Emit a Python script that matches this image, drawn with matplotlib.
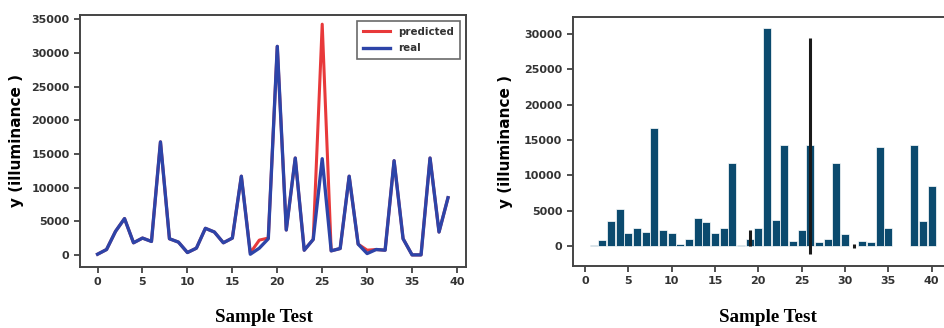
import matplotlib
matplotlib.use("Agg")
import matplotlib.pyplot as plt
import numpy as np

samples = list(range(40))
real = [100, 800, 3500, 5400, 1800, 2500, 2000, 16800, 2400, 1900,
        350, 1000, 3950, 3400, 1800, 2500, 11700, 100, 1000, 2400,
        31000, 3700, 14400, 700, 2300, 14300, 600, 950, 11700, 1600,
        200, 800, 700, 14000, 2400, 0, 0, 14400, 3400, 8500]
predicted = [100, 800, 3500, 5400, 1800, 2500, 2000, 16800, 2400, 1900,
             350, 1000, 3950, 3400, 1800, 2500, 11700, 300, 2200, 2500,
             31000, 3700, 14400, 700, 2300, 34300, 600, 950, 11700, 1600,
             700, 800, 700, 14000, 2400, 0, 0, 14400, 3400, 8500]

bar_x = list(range(1, 41))
bar_vals = [200, 800, 3600, 5300, 1800, 2500, 2000, 16700, 2300, 1900,
            300, 1000, 3900, 3400, 1800, 2600, 11700, 100, 1000, 2600,
            30900, 3700, 14300, 700, 2300, 14300, 500, 1000, 11700, 1700,
            0, 700, 600, 14000, 2500, 0, 0, 14300, 3500, 8500]
err_x = [19, 26, 31]
err_low = [0, -1100, -300]
err_high = [2300, 29400, 300]

fig = plt.figure(figsize=(9.45, 3.28), dpi=100)

tick_color = "#333333"
spine_color = "#444444"

def style(ax):
    for s in ax.spines.values():
        s.set_color(spine_color)
        s.set_linewidth(1.4)
    ax.tick_params(colors=tick_color, labelsize=8, width=1.2, length=4)
    for lab in ax.get_xticklabels() + ax.get_yticklabels():
        lab.set_fontweight("bold")

# Left: line chart
ax1 = fig.add_axes([0.0847, 0.187, 0.4084, 0.768])
ax1.plot(samples, predicted, color="#e8393a", lw=2.2, label="predicted")
ax1.plot(samples, real, color="#2d44a8", lw=2.4, label="real")
ax1.set_xlim(-1.95, 41.0)
ax1.set_ylim(-1750, 35700)
ax1.set_xticks(range(0, 41, 5))
ax1.set_yticks(range(0, 35001, 5000))
ax1.set_ylabel("y (illuminance )", fontsize=11, fontweight="bold", labelpad=5)
leg = ax1.legend(loc="upper right", fontsize=7.4, frameon=True, fancybox=False,
                 handlelength=2.6, borderpad=0.6, labelspacing=0.6,
                 borderaxespad=0.6)
leg.get_frame().set_edgecolor(spine_color)
leg.get_frame().set_linewidth(1.2)
for t in leg.get_texts():
    t.set_color(tick_color)
    t.set_fontweight("bold")
style(ax1)

# Right: bar chart
ax2 = fig.add_axes([0.606, 0.189, 0.397, 0.760])
ax2.bar(bar_x, bar_vals, width=0.95, color="#0b4a6e", edgecolor="white", linewidth=0.5)
for x, lo, hi in zip(err_x, err_low, err_high):
    ax2.vlines(x, lo, hi, color="#1a1a1a", lw=2.2)
ax2.set_xlim(-1.42, 41.87)
ax2.set_ylim(-2830, 32450)
ax2.set_xticks(range(0, 41, 5))
ax2.set_yticks(range(0, 30001, 5000))
ax2.set_ylabel("y (illuminance )", fontsize=11, fontweight="bold", labelpad=8)
style(ax2)

fig.text(0.279, 0.005, "Sample Test", fontsize=13.7, fontweight="bold",
         family="Liberation Serif", ha="center", va="bottom")
fig.text(0.813, 0.005, "Sample Test", fontsize=13.7, fontweight="bold",
         family="Liberation Serif", ha="center", va="bottom")

fig.savefig("out.png", dpi=100)
